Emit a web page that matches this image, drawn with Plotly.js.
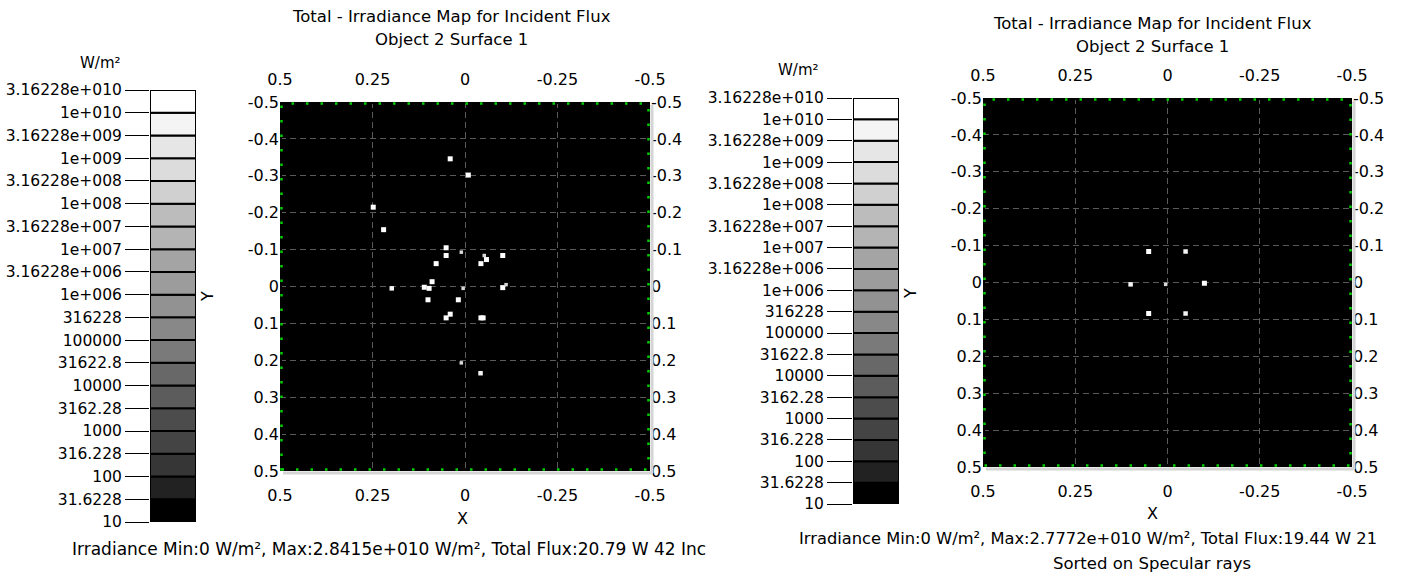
<!DOCTYPE html>
<html>
<head>
<meta charset="utf-8">
<script src="https://cdn.plot.ly/plotly-3.0.1.min.js"></script>
<style>html,body{margin:0;padding:0;background:#fff;}#chart{width:1401px;height:576px;}</style>
</head>
<body>
<div id="chart"></div>
<script>
// ---------- data ----------
const levelValues = [10, 31.6228, 100, 316.228, 1000, 3162.28, 10000, 31622.8, 100000, 316228,
  1e6, 3.16228e6, 1e7, 3.16228e7, 1e8, 3.16228e8, 1e9, 3.16228e9, 1e10, 3.16228e10];
const levelLabels = ['10', '31.6228', '100', '316.228', '1000', '3162.28', '10000', '31622.8', '100000', '316228',
  '1e+006', '3.16228e+006', '1e+007', '3.16228e+007', '1e+008', '3.16228e+008', '1e+009', '3.16228e+009', '1e+010', '3.16228e+010'];

const xTickVals = [0.5, 0.25, 0, -0.25, -0.5];
const xTickText = ['0.5', '0.25', '0', '-0.25', '-0.5'];
const yTickVals = [-0.5, -0.4, -0.3, -0.2, -0.1, 0, 0.1, 0.2, 0.3, 0.4, 0.5];
const yTickText = ['-0.5', '-0.4', '-0.3', '-0.2', '-0.1', '0', '0.1', '0.2', '0.3', '0.4', '0.5'];

// left map: all rays (42 incident rays)
const leftX = [0.040, -0.009, 0.248, 0.220, 0.051, 0.051, 0.010, 0.078, -0.052, -0.058, -0.043, -0.102,
  0.089, 0.110, 0.097, 0.005, -0.102, -0.111, 0.100, 0.018, 0.040, 0.051, -0.043, -0.049, 0.198, 0.010, -0.042];
const leftY = [-0.346, -0.302, -0.215, -0.154, -0.105, -0.084, -0.093, -0.062, -0.084, -0.073, -0.062, -0.084,
  -0.013, 0.002, 0.005, 0.005, 0.003, -0.005, 0.036, 0.036, 0.075, 0.085, 0.085, 0.085, 0.005, 0.207, 0.235];
const leftIrr = [2.8e10, 2.8e10, 2.8e10, 2.8e10, 2.8e10, 2.8e10, 8e9, 2.8e10, 8e9, 2.8e10, 2.8e10, 2.8e10,
  2.8e10, 2.8e10, 2.8e10, 8e9, 2.8e10, 8e9, 2.8e10, 2.8e10, 2.8e10, 2.8e10, 2.8e10, 2.8e10, 1.5e10, 8e9, 1.5e10];

// right map: specular rays only
const rightX = [0.051, -0.049, 0.100, 0.005, -0.100, 0.051, -0.049];
const rightY = [-0.084, -0.084, 0.005, 0.005, 0.002, 0.084, 0.084];
const rightIrr = [2.77e10, 1.5e10, 1.5e10, 8e9, 2.77e10, 2.77e10, 1.5e10];

const titleLine1 = 'Total - Irradiance Map for Incident Flux';
const titleLine2 = 'Object 2 Surface 1';
const leftFooter = 'Irradiance Min:0 W/m², Max:2.8415e+010 W/m², Total Flux:20.79 W 42 Inc';
const rightFooter = 'Irradiance Min:0 W/m², Max:2.7772e+010 W/m², Total Flux:19.44 W 21';
const rightFooter2 = 'Sorted on Specular rays';
const unitLabel = 'W/m²';

// ---------- style ----------
const W = 1401, H = 576;
const FONT = 'DejaVu Sans, Liberation Sans, Arial, sans-serif';
const boxGrays = [0, 34, 54, 68, 76, 92, 104, 122, 136, 146, 156, 164, 180, 188, 208, 220, 230, 244, 255];
const px = v => v / W;
const py = v => 1 - v / H;

function markerSize(v) { return v >= 2e10 ? 5 : (v >= 1.2e10 ? 4.5 : 3.5); }
function markerColor(v) { return v >= 2e10 ? '#ffffff' : (v >= 1.2e10 ? '#f4f4f4' : '#d8d8d8'); }

const traces = [];
function mapTraces(xs, ys, irr, xa, ya, xa2, ya2) {
  traces.push({
    type: 'scatter', mode: 'markers', x: xs, y: ys, xaxis: xa, yaxis: ya,
    marker: { symbol: 'square', size: irr.map(markerSize), color: irr.map(markerColor), opacity: 1, line: { width: 0 } },
    hoverinfo: 'x+y', showlegend: false
  });
  traces.push({
    type: 'scatter', mode: 'markers', x: [xs[0]], y: [ys[0]], xaxis: xa2, yaxis: ya2,
    marker: { size: 1, color: 'rgba(0,0,0,0)' }, hoverinfo: 'skip', showlegend: false
  });
}
mapTraces(leftX, leftY, leftIrr, 'x', 'y', 'x2', 'y2');
mapTraces(rightX, rightY, rightIrr, 'x3', 'y3', 'x4', 'y4');

function colorbarTrace(xa, ya) {
  const base = [], h = [], cols = [];
  for (let i = 0; i < levelValues.length - 1; i++) {
    base.push(levelValues[i]);
    h.push(levelValues[i + 1] - levelValues[i]);
    const g = boxGrays[i];
    cols.push('rgb(' + g + ',' + g + ',' + g + ')');
  }
  traces.push({
    type: 'bar', x: h.map(() => 0), y: h, base: base, width: 1, xaxis: xa, yaxis: ya,
    marker: { color: cols, line: { color: '#000', width: 2 } },
    hoverinfo: 'skip', showlegend: false
  });
}
colorbarTrace('x5', 'y5');
colorbarTrace('x6', 'y6');

const tickFont = { family: FONT, size: 16, color: '#000' };
const cbFont = { family: FONT, size: 15.5, color: '#000' };

function mapAxes(xd, yd) {
  const gx = {
    domain: xd, range: [0.5, -0.5], tickmode: 'array', tickvals: xTickVals, ticktext: xTickText,
    showgrid: true, gridcolor: '#5a5a5a', gridwidth: 1, griddash: '6px,4px', zeroline: false,
    showline: false, ticks: '', tickfont: tickFont, ticklabelstandoff: 13, fixedrange: true
  };
  const gy = {
    domain: yd, range: [0.5, -0.5], tickmode: 'array', tickvals: yTickVals, ticktext: yTickText,
    showgrid: true, gridcolor: '#5a5a5a', gridwidth: 1, griddash: '6px,4px', zeroline: false,
    showline: false, ticks: '', tickfont: tickFont, ticklabelstandoff: 0, fixedrange: true
  };
  return [gx, gy];
}

const layout = {
  width: W, height: H, margin: { l: 0, r: 0, t: 0, b: 0 },
  paper_bgcolor: '#ffffff', plot_bgcolor: '#000000', showlegend: false,
  font: { family: FONT, size: 16, color: '#000' },
  bargap: 0, barmode: 'overlay',
  shapes: [], annotations: []
};

const L = mapAxes([px(280), px(650)], [py(471), py(102)]);
layout.xaxis = Object.assign({}, L[0], { anchor: 'y', side: 'bottom' });
layout.yaxis = Object.assign({}, L[1], { anchor: 'x', side: 'left' });
layout.xaxis2 = Object.assign({}, L[0], { overlaying: 'x', anchor: 'y2', side: 'top', showgrid: false });
layout.yaxis2 = Object.assign({}, L[1], { overlaying: 'y', anchor: 'x2', side: 'right', showgrid: false });

const R = mapAxes([px(983), px(1352)], [py(467), py(98)]);
layout.xaxis3 = Object.assign({}, R[0], { anchor: 'y3', side: 'bottom' });
layout.yaxis3 = Object.assign({}, R[1], { anchor: 'x3', side: 'left' });
layout.xaxis4 = Object.assign({}, R[0], { overlaying: 'x3', anchor: 'y4', side: 'top', showgrid: false });
layout.yaxis4 = Object.assign({}, R[1], { overlaying: 'y3', anchor: 'x4', side: 'right', showgrid: false });

function cbAxes(xd, yd, tl) {
  const xa = { domain: xd, range: [-0.5, 0.5], visible: false, fixedrange: true };
  const ya = {
    domain: yd, type: 'log', range: [Math.log10(levelValues[0]), Math.log10(levelValues[levelValues.length - 1])],
    tickmode: 'array', tickvals: levelValues, ticktext: levelLabels, ticks: 'outside', ticklen: tl,
    tickcolor: '#000', tickwidth: 1, showgrid: false, zeroline: false, showline: false,
    tickfont: cbFont, side: 'left', fixedrange: true
  };
  return [xa, ya];
}
const CL = cbAxes([px(150), px(196)], [py(522), py(90)], 24);
layout.xaxis5 = Object.assign(CL[0], { anchor: 'y5' });
layout.yaxis5 = Object.assign(CL[1], { anchor: 'x5' });
const CR = cbAxes([px(853), px(899)], [py(504), py(98)], 25);
layout.xaxis6 = Object.assign(CR[0], { anchor: 'y6' });
layout.yaxis6 = Object.assign(CR[1], { anchor: 'x6' });

// plot frames: shadow, edge, green dotted border
function frame(xr, yr) {
  layout.shapes.push({ type: 'line', xref: 'paper', yref: 'paper', x0: px(xr[1] + 2), x1: px(xr[1] + 2), y0: py(yr[0] + 3), y1: py(yr[1] + 2), line: { color: '#d4d4d4', width: 3 } });
  layout.shapes.push({ type: 'line', xref: 'paper', yref: 'paper', x0: px(xr[0] + 3), x1: px(xr[1] + 3), y0: py(yr[1] + 2), y1: py(yr[1] + 2), line: { color: '#d4d4d4', width: 3 } });
  layout.shapes.push({ type: 'rect', xref: 'paper', yref: 'paper', x0: px(xr[0] + 1), x1: px(xr[1] - 1), y0: py(yr[1] - 1), y1: py(yr[0] + 1), line: { color: '#000', width: 2 }, layer: 'above' });
  layout.shapes.push({ type: 'rect', xref: 'paper', yref: 'paper', x0: px(xr[0] + 1.5), x1: px(xr[1] - 1.5), y0: py(yr[1] - 1.5), y1: py(yr[0] + 1.5), line: { color: '#00d000', width: 2.5 , dash: '2.5px,12px' }, layer: 'above' });
}
frame([280, 650], [102, 471]);
frame([983, 1352], [98, 467]);

function ann(text, x, y, size, opts) {
  layout.annotations.push(Object.assign({
    text: text, xref: 'paper', yref: 'paper', x: px(x), y: py(y), showarrow: false,
    xanchor: 'center', yanchor: 'middle', font: { family: FONT, size: size, color: '#000' }
  }, opts || {}));
}
// left panel texts
ann(titleLine1, 451, 16, 16.5);
ann(titleLine2, 451, 40, 16.5);
ann(unitLabel, 100, 63, 15);
ann('Y', 207, 297, 16, { textangle: -90 });
ann('X', 462, 518, 16);
ann(leftFooter, 70, 549, 17, { xanchor: 'left' });
// right panel texts
ann(titleLine1, 1152, 24, 16.5);
ann(titleLine2, 1152, 47, 16.5);
ann(unitLabel, 798, 70, 15);
ann('Y', 910, 293, 16, { textangle: -90 });
ann('X', 1152, 513, 16);
ann(rightFooter, 797, 538, 16.3, { xanchor: 'left' });
ann(rightFooter2, 1152, 563, 16.5);

Plotly.newPlot('chart', traces, layout, { displayModeBar: false, staticPlot: true });
</script>
</body>
</html>
